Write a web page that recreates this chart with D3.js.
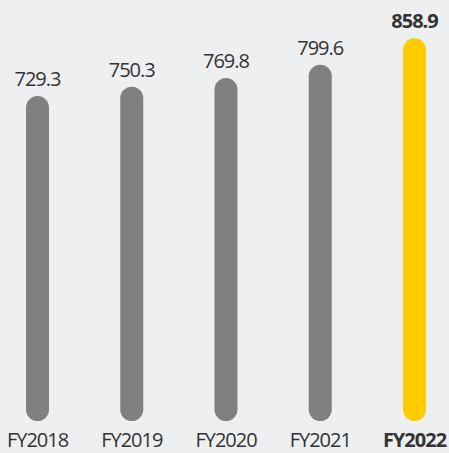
<!DOCTYPE html>
<html>
<head>
<meta charset="utf-8">
<script src="https://cdn.jsdelivr.net/npm/d3@7"></script>
<style>
  html, body { margin: 0; padding: 0; background: #eeeff1; }
  svg { display: block; }
</style>
</head>
<body>
<svg id="chart" width="449" height="453"></svg>
<script>
const categories = ["FY2018", "FY2019", "FY2020", "FY2021", "FY2022"];
const values = [729.3, 750.3, 769.8, 799.6, 858.9];
const valueLabels = ["729.3", "750.3", "769.8", "799.6", "858.9"];
const highlight = [false, false, false, false, true];

const W = 449, H = 453;
const svg = d3.select("#chart");
svg.append("rect").attr("width", W).attr("height", H).attr("fill", "#eeeff1");

const x = d3.scalePoint().domain(categories).range([37.5, 414.5]);
const y = d3.scaleLinear().domain([0, 900]).range([421, 20]);
const barW = 23;

const data = categories.map((c, i) => ({ c, v: values[i], label: valueLabels[i], hi: highlight[i] }));

svg.selectAll("rect.bar").data(data).enter().append("rect")
  .attr("class", "bar")
  .attr("x", d => x(d.c) - barW / 2)
  .attr("y", d => y(d.v))
  .attr("width", barW)
  .attr("height", d => y(0) - y(d.v))
  .attr("rx", barW / 2)
  .attr("ry", barW / 2)
  .attr("fill", d => d.hi ? "#ffcc00" : "#808080");

const font = "'Open Sans', 'Noto Sans', sans-serif";

svg.selectAll("text.val").data(data).enter().append("text")
  .attr("class", "val")
  .attr("x", d => x(d.c))
  .attr("y", d => y(d.v) - 10)
  .attr("text-anchor", "middle")
  .attr("font-family", font)
  .attr("font-size", 20)
  .attr("letter-spacing", -1)
  .attr("font-weight", d => d.hi ? 700 : 400)
  .attr("fill", "#333333")
  .text(d => d.label);

svg.selectAll("text.cat").data(data).enter().append("text")
  .attr("class", "cat")
  .attr("x", d => x(d.c))
  .attr("y", 447)
  .attr("text-anchor", "middle")
  .attr("font-family", font)
  .attr("font-size", 20)
  .attr("letter-spacing", -1)
  .attr("font-weight", d => d.hi ? 700 : 400)
  .attr("fill", "#333333")
  .text(d => d.c);
</script>
</body>
</html>
